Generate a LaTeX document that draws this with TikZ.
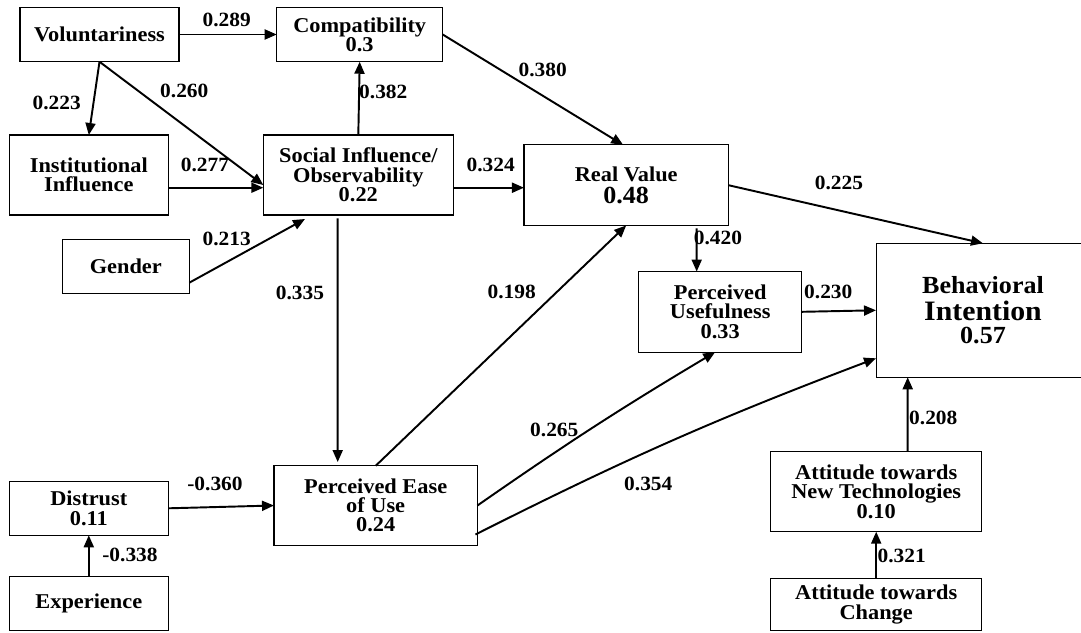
\documentclass[tikz,border=0pt]{standalone}
\usepackage{fontspec}
\setmainfont{Liberation Serif}[FakeStretch=1.06]
\usetikzlibrary{arrows.meta,calc}

\begin{document}
\begin{tikzpicture}[x=0.02cm, y=-0.02cm,
		construct/.style={draw, line width=0.6pt, inner sep=0pt, outer sep=0pt, align=center, font=\fontsize{12}{11}\selectfont\bfseries},
		weight/.style={inner sep=0pt, font=\fontsize{11.5}{12}\selectfont\bfseries},
		link/.style={line width=1.1pt, -{Triangle[length=2.4mm,width=2mm]}}]
			%%%%% START %%%%%
			\useasboundingbox (0, 0) rectangle (1081, 632);
			
			\node[construct, minimum width=3.18cm, minimum height=1.09cm] (vol) at (99.5, 34.5) {Voluntariness};
			\node[construct, minimum width=3.32cm, minimum height=1.09cm] (comp) at (359.7, 34.5) {Compatibility\\0.3};
			\node[construct, minimum width=3.18cm, minimum height=1.6cm] (inst) at (88.8, 175) {Institutional\\Influence};
			\node[construct, minimum width=3.8cm, minimum height=1.6cm] (soc) at (358.3, 175) {Social Influence/\\Observability\\0.22};
			\node[construct, minimum width=2.54cm, minimum height=1.08cm] (gen) at (125.8, 266.3) {Gender};
			\node[construct, minimum width=4.09cm, minimum height=1.61cm] (rv) at (626.2, 185.2) {Real Value\\[1.5pt]{\fontsize{14}{14}\selectfont 0.48}};
			\node[construct, minimum width=3.27cm, minimum height=1.61cm] (pu) at (720.2, 311.8) {Perceived\\Usefulness\\0.33};
			\node[construct, minimum width=4.28cm, minimum height=2.68cm, font=\fontsize{14}{14}\selectfont\bfseries] (bi) at (983, 310.3) {Behavioral\\[1.5pt]{\fontsize{16}{14}\selectfont Intention}\\[-1pt]0.57};
			\node[construct, minimum width=4.07cm, minimum height=1.59cm] (peou) at (375.7, 505.5) {Perceived Ease\\of Use\\0.24};
			\node[construct, minimum width=3.18cm, minimum height=1.08cm] (dis) at (88.8, 508.3) {Distrust\\0.11};
			\node[construct, minimum width=3.18cm, minimum height=1.07cm] (exp) at (88.8, 603.7) {Experience};
			\node[construct, minimum width=4.22cm, minimum height=1.6cm] (ant) at (876.2, 491.7) {Attitude towards\\New Technologies\\0.10};
			\node[construct, minimum width=4.22cm, minimum height=1.05cm] (chg) at (876.2, 604.5) {Attitude towards\\Change};
			
			\draw[link] (vol.east) -- (comp.west);
			\draw[link] (vol.south) -- (inst.north);
			\draw[link] (vol.south) -- ($(soc.west)+(0, 10)$);
			\draw[link] ($(inst.east)+(0, 12.7)$) -- ($(soc.west)+(0, 12.7)$);
			\draw[link] ($(gen.east)+(0, 16.4)$) -- ($(soc.south)+(-53.3, 4)$);
			\draw[link] (soc.north) -- (comp.south);
			\draw[link] (comp.east) -- ($(rv.north)+(-3, 0)$);
			\draw[link] ($(soc.east)+(0, 12.7)$) -- ($(rv.west)+(0, 2.5)$);
			\draw[link] ($(soc.south)+(-20.6, 3.3)$) -- ($(peou.north)+(-38, -3.7)$);
			\draw[link] (peou.north) -- (rv.south);
			\draw[link] ($(rv.south)+(70.5, 3)$) -- ($(pu.north)+(-23.5, 0)$);
			\draw[link] (rv.east) -- (bi.north);
			\draw[link] (pu.east) -- (bi.west);
			\draw[link] (peou.east) to[bend left=2] ($(pu.south)+(-5, 0)$);
			\draw[link] ($(peou.east)+(-2, 29)$) to[bend left=3] ($(bi.west)+(0, 48)$);
			\draw[link] ($(ant.north)+(31.5, 0)$) -- ($(bi.south)+(-75.3, 0)$);
			\draw[link] (dis.east) -- (peou.west);
			\draw[link] (exp.north) -- (dis.south);
			\draw[link] (chg.north) -- (ant.south);
			
			\node[weight] (w289) at (226.7, 20) {0.289};
			\node[weight] (w223) at (56.7, 103.3) {0.223};
			\node[weight] (w260) at (184.3, 90.7) {0.260};
			\node[weight] (w277) at (205, 165) {0.277};
			\node[weight] (w213) at (226.7, 239.3) {0.213};
			\node[weight] (w335) at (300, 293.3) {0.335};
			\node[weight] (w382) at (383.3, 91.7) {0.382};
			\node[weight] (w380) at (542.7, 70) {0.380};
			\node[weight] (w324) at (490.7, 165) {0.324};
			\node[weight] (w198) at (511.7, 291.7) {0.198};
			\node[weight] (w420) at (718, 238) {0.420};
			\node[weight] (w225) at (839, 183) {0.225};
			\node[weight] (w230) at (828.3, 291.7) {0.230};
			\node[weight] (w265) at (554.3, 430.3) {0.265};
			\node[weight] (w354) at (648.3, 483.7) {0.354};
			\node[weight] (w208) at (933.3, 418.3) {0.208};
			\node[weight] (w321) at (901.7, 556) {0.321};
			\node[weight] (w360) at (215, 483.7) {-0.360};
			\node[weight] (w338) at (130, 555.3) {-0.338};
			
			%%%%% END %%%%%
\end{tikzpicture}
\end{document}
